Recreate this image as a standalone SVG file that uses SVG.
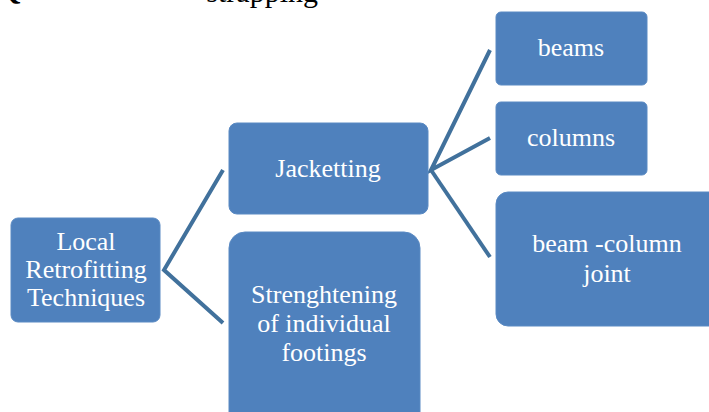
<svg xmlns="http://www.w3.org/2000/svg" width="709" height="412" viewBox="0 0 709 412">
<style>
.n{fill:#4f81bd;stroke:#5a8ac3;stroke-width:1}
.t{fill:#fff;font-family:'Liberation Serif','DejaVu Serif',serif;font-size:26px;text-anchor:middle}
.c{stroke:#41719c;stroke-width:4;fill:none;stroke-linejoin:miter}
.top{fill:#000;font-family:'Liberation Serif','DejaVu Serif',serif;font-size:30px}
</style>
<rect width="709" height="412" fill="#fff"/>
<text class="top" x="-2" y="-1" font-weight="bold">Q</text>
<text class="top" x="318" y="2" text-anchor="end">strapping</text>
<g id="connectors">
<polyline class="c" points="223,170 164,270 223,323"/>
<polyline class="c" points="490,50 431,170 490,138"/>
<line class="c" x1="431" y1="170" x2="490" y2="257"/>
</g>
<g id="local">
<rect class="n" x="11" y="218" width="149" height="104" rx="7"/>
<text class="t" x="86" y="250">Local</text>
<text class="t" x="86" y="278">Retrofitting</text>
<text class="t" x="86" y="306">Techniques</text>
</g>
<g id="jacketting">
<rect class="n" x="229" y="123" width="199" height="91" rx="8"/>
<text class="t" x="328" y="177">Jacketting</text>
</g>
<g id="footings">
<rect class="n" x="229" y="232" width="191" height="200" rx="16"/>
<text class="t" x="324" y="303">Strenghtening</text>
<text class="t" x="324" y="332">of individual</text>
<text class="t" x="324" y="361">footings</text>
</g>
<g id="beams">
<rect class="n" x="496" y="12" width="151" height="73" rx="5"/>
<text class="t" x="571" y="56">beams</text>
</g>
<g id="columns">
<rect class="n" x="496" y="102" width="151" height="73" rx="5"/>
<text class="t" x="571" y="146">columns</text>
</g>
<g id="joint">
<rect class="n" x="496" y="192" width="230" height="134" rx="12"/>
<text class="t" x="607" y="252">beam -column</text>
<text class="t" x="607" y="282">joint</text>
</g>
</svg>
